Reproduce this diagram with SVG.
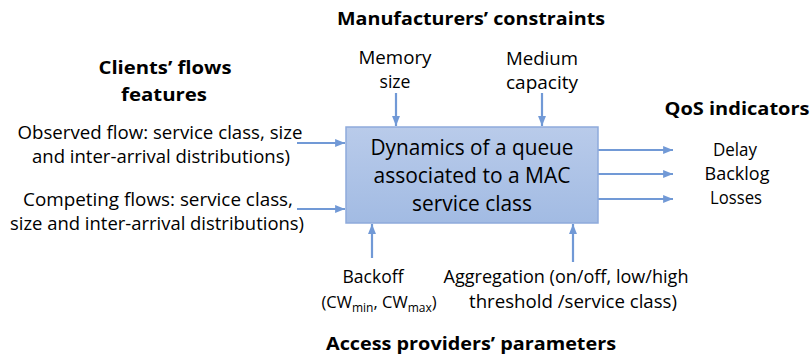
<svg xmlns="http://www.w3.org/2000/svg" width="811" height="356" viewBox="0 0 811 356">
<style>
text{font-family:"Open Sans","Liberation Sans",sans-serif;fill:#000;text-anchor:middle}
.t{font-size:18px}
.b{font-size:18.5px;font-weight:bold}
.m{font-size:21.5px}
.c{stroke:#7199d6;stroke-width:2.2;fill:none;marker-end:url(#ah)}
</style>
<defs>
<marker id="ah" viewBox="0 0 10 10" refX="10" refY="5" markerWidth="4.5" markerHeight="4.5" markerUnits="strokeWidth" orient="auto">
<path d="M0,1 L10,5 L0,9 Z" fill="#7199d6"/>
</marker>
<linearGradient id="g" x1="0" y1="0" x2="0" y2="1">
<stop offset="0" stop-color="#b9cbea"/>
<stop offset="1" stop-color="#a2bbe3"/>
</linearGradient>
</defs>
<g id="connectors">
<line class="c" x1="297" y1="143" x2="345" y2="143"/>
<line class="c" x1="297" y1="209" x2="345" y2="209"/>
<line class="c" x1="598" y1="150" x2="673" y2="150"/>
<line class="c" x1="598" y1="174" x2="673" y2="174"/>
<line class="c" x1="598" y1="199" x2="673" y2="199"/>
<line class="c" x1="396" y1="93" x2="396" y2="126"/>
<line class="c" x1="542" y1="93" x2="542" y2="126"/>
<line class="c" x1="372" y1="258" x2="372" y2="224"/>
<line class="c" x1="573" y1="262" x2="573" y2="224"/>
</g>
<g id="queue">
<rect x="346" y="127" width="252" height="96" fill="url(#g)" stroke="#8eaadb" stroke-width="1.5"/>
<text class="m" x="472" y="155" textLength="203" lengthAdjust="spacingAndGlyphs">Dynamics of a queue</text>
<text class="m" x="472" y="183" textLength="197" lengthAdjust="spacingAndGlyphs">associated to a MAC</text>
<text class="m" x="472" y="211" textLength="120" lengthAdjust="spacingAndGlyphs">service class</text>
</g>
<g id="manufacturers">
<text class="b" x="471" y="25" textLength="268" lengthAdjust="spacingAndGlyphs">Manufacturers’ constraints</text>
</g>
<g id="memory">
<text class="t" x="395" y="64" textLength="73" lengthAdjust="spacingAndGlyphs">Memory</text>
<text class="t" x="395" y="88" textLength="31" lengthAdjust="spacingAndGlyphs">size</text>
</g>
<g id="medium">
<text class="t" x="542" y="65" textLength="72" lengthAdjust="spacingAndGlyphs">Medium</text>
<text class="t" x="542" y="89" textLength="72" lengthAdjust="spacingAndGlyphs">capacity</text>
</g>
<g id="clients">
<text class="b" x="165" y="74" textLength="133" lengthAdjust="spacingAndGlyphs">Clients’ flows</text>
<text class="b" x="164" y="101" textLength="86" lengthAdjust="spacingAndGlyphs">features</text>
</g>
<g id="observed">
<text class="t" x="160" y="139" textLength="285" lengthAdjust="spacingAndGlyphs">Observed flow: service class, size</text>
<text class="t" x="161" y="163" textLength="258" lengthAdjust="spacingAndGlyphs">and inter-arrival distributions)</text>
</g>
<g id="competing">
<text class="t" x="158" y="206" textLength="270" lengthAdjust="spacingAndGlyphs">Competing flows: service class,</text>
<text class="t" x="157" y="230" textLength="294" lengthAdjust="spacingAndGlyphs">size and inter-arrival distributions)</text>
</g>
<g id="qos">
<text class="b" x="737" y="115" textLength="145" lengthAdjust="spacingAndGlyphs">QoS indicators</text>
<text class="t" x="735" y="156" textLength="44" lengthAdjust="spacingAndGlyphs">Delay</text>
<text class="t" x="737" y="180" textLength="65" lengthAdjust="spacingAndGlyphs">Backlog</text>
<text class="t" x="736" y="204" textLength="52" lengthAdjust="spacingAndGlyphs">Losses</text>
</g>
<g id="backoff">
<text class="t" x="373" y="283" textLength="61" lengthAdjust="spacingAndGlyphs">Backoff</text>
<text x="379" y="308" font-size="16.5">(CW<tspan font-size="12" dy="4">min</tspan><tspan dy="-4">, CW</tspan><tspan font-size="12" dy="4">max</tspan><tspan dy="-4">)</tspan></text>
</g>
<g id="aggregation">
<text class="t" x="566" y="283" textLength="245" lengthAdjust="spacingAndGlyphs">Aggregation (on/off, low/high</text>
<text class="t" x="573" y="308" textLength="208" lengthAdjust="spacingAndGlyphs">threshold /service class)</text>
</g>
<g id="access">
<text class="b" x="471" y="350" textLength="290" lengthAdjust="spacingAndGlyphs">Access providers’ parameters</text>
</g>
</svg>
